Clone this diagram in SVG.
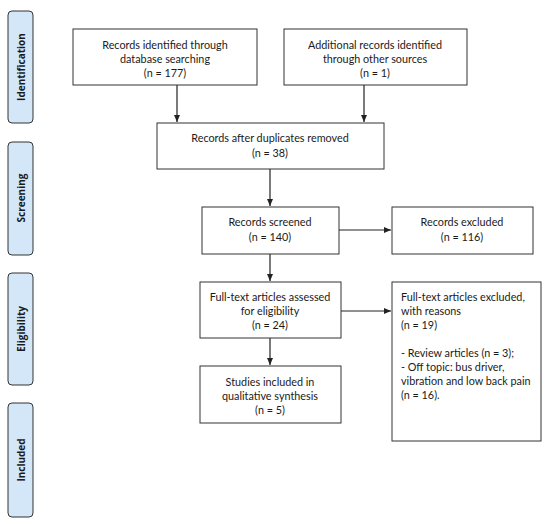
<svg xmlns="http://www.w3.org/2000/svg" width="550" height="525" viewBox="0 0 550 525">
<defs>
<style>
.bx{fill:#fff;stroke:#333;stroke-width:1}
.side{fill:#d3e7f8;stroke:#333;stroke-width:1}
.t{font-family:Lato,"Open Sans",sans-serif;font-size:10.8px;fill:#1a1a1a;text-anchor:middle}
.tl{font-family:Lato,"Open Sans",sans-serif;font-size:10.8px;fill:#1a1a1a}
.s{font-family:"Open Sans",Lato,sans-serif;font-size:10px;font-weight:700;fill:#1a1a1a;text-anchor:middle}
.c{stroke:#222;stroke-width:1.2;fill:none;marker-end:url(#ah)}
</style>
<marker id="ah" markerWidth="8" markerHeight="8" refX="7" refY="4" orient="auto" markerUnits="userSpaceOnUse">
<path d="M0,1 L7,4 L0,7 Z" fill="#222"/>
</marker>
</defs>
<rect width="550" height="525" fill="#fff"/>
<g id="side-identification"><rect class="side" x="8" y="11" width="25" height="112" rx="4"/><text class="s" transform="translate(24.5,67) rotate(-90)">Identification</text></g>
<g id="side-screening"><rect class="side" x="8" y="142" width="25" height="113" rx="4"/><text class="s" transform="translate(24.5,198) rotate(-90)">Screening</text></g>
<g id="side-eligibility"><rect class="side" x="8" y="273" width="25" height="112" rx="4"/><text class="s" transform="translate(24.5,329) rotate(-90)">Eligibility</text></g>
<g id="side-included"><rect class="side" x="8" y="403" width="25" height="114" rx="4"/><text class="s" transform="translate(24.5,460) rotate(-90)">Included</text></g>

<g id="connectors">
<path class="c" d="M177,85 V122"/>
<path class="c" d="M364,85 V122"/>
<path class="c" d="M270,169 V206"/>
<path class="c" d="M339,230 H391"/>
<path class="c" d="M270,254 V281"/>
<path class="c" d="M341,311 H391"/>
<path class="c" d="M270,338 V365"/>
</g>

<g id="n1"><rect class="bx" x="73" y="29" width="184" height="56"/>
<text class="t" x="165" y="49">Records identified through</text>
<text class="t" x="165" y="63">database searching</text>
<text class="t" x="165" y="77">(n = 177)</text></g>
<g id="n2"><rect class="bx" x="284" y="29" width="183" height="56"/>
<text class="t" x="375" y="49">Additional records identified</text>
<text class="t" x="375" y="63">through other sources</text>
<text class="t" x="375" y="77">(n = 1)</text></g>
<g id="n3"><rect class="bx" x="157" y="123" width="227" height="46"/>
<text class="t" x="270" y="142">Records after duplicates removed</text>
<text class="t" x="270" y="157">(n = 38)</text></g>
<g id="n4"><rect class="bx" x="202" y="207" width="137" height="47"/>
<text class="t" x="270" y="226">Records screened</text>
<text class="t" x="270" y="241">(n = 140)</text></g>
<g id="n5"><rect class="bx" x="392" y="207" width="141" height="47"/>
<text class="t" x="462" y="226">Records excluded</text>
<text class="t" x="462" y="241">(n = 116)</text></g>
<g id="n6"><rect class="bx" x="200" y="282" width="141" height="56"/>
<text class="t" x="270" y="301">Full-text articles assessed</text>
<text class="t" x="270" y="315">for eligibility</text>
<text class="t" x="270" y="329">(n = 24)</text></g>
<g id="n7"><rect class="bx" x="392" y="282" width="149" height="159"/>
<text class="tl" x="401" y="301">Full-text articles excluded,</text>
<text class="tl" x="401" y="315">with reasons</text>
<text class="tl" x="401" y="329">(n = 19)</text>
<text class="tl" x="401" y="357">- Review articles (n = 3);</text>
<text class="tl" x="401" y="371">- Off topic: bus driver,</text>
<text class="tl" x="401" y="385">vibration and low back pain</text>
<text class="tl" x="401" y="399">(n = 16).</text></g>
<g id="n8"><rect class="bx" x="200" y="366" width="141" height="57"/>
<text class="t" x="270" y="386">Studies included in</text>
<text class="t" x="270" y="400">qualitative synthesis</text>
<text class="t" x="270" y="414">(n = 5)</text></g>
</svg>
